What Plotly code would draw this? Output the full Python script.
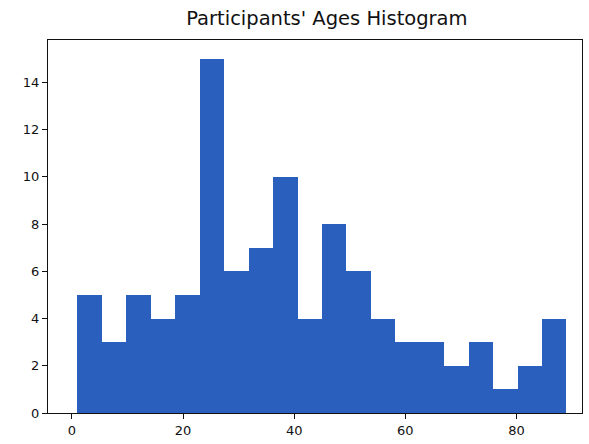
import plotly.graph_objects as go

# Data: histogram of participants' ages (20 bins)
bin_start = 1.0
bin_width = 4.4
counts = [5, 3, 5, 4, 5, 15, 6, 7, 10, 4, 8, 6, 4, 3, 3, 2, 3, 1, 2, 4]
x_ticks = [0, 20, 40, 60, 80]
y_ticks = [0, 2, 4, 6, 8, 10, 12, 14]

lefts = [bin_start + i * bin_width for i in range(len(counts))]

fig = go.Figure(go.Bar(
    x=lefts, y=counts, width=bin_width, offset=0,
    marker=dict(color="#2a5fbe", line=dict(width=0)),
))

axis_common = dict(
    showgrid=False, zeroline=False, showline=True, mirror=True,
    linecolor="#111", linewidth=1.3, ticks="outside", ticklen=5,
    tickcolor="#111", tickfont=dict(family="DejaVu Sans", size=13, color="#111"),
)

fig.update_layout(
    width=589, height=444,
    margin=dict(l=48, r=6, t=40, b=26),
    paper_bgcolor="white", plot_bgcolor="white",
    bargap=0,
    title=dict(text="Participants' Ages Histogram", x=0.555, xanchor="center",
               y=0.958, yanchor="middle",
               font=dict(family="DejaVu Sans", size=19.5, color="#111")),
    xaxis=dict(range=[-4.3, 91.8], tickvals=x_ticks, **axis_common),
    yaxis=dict(range=[0, 15.8], tickvals=y_ticks, **axis_common),
    showlegend=False,
)

fig.write_html("out.html")
